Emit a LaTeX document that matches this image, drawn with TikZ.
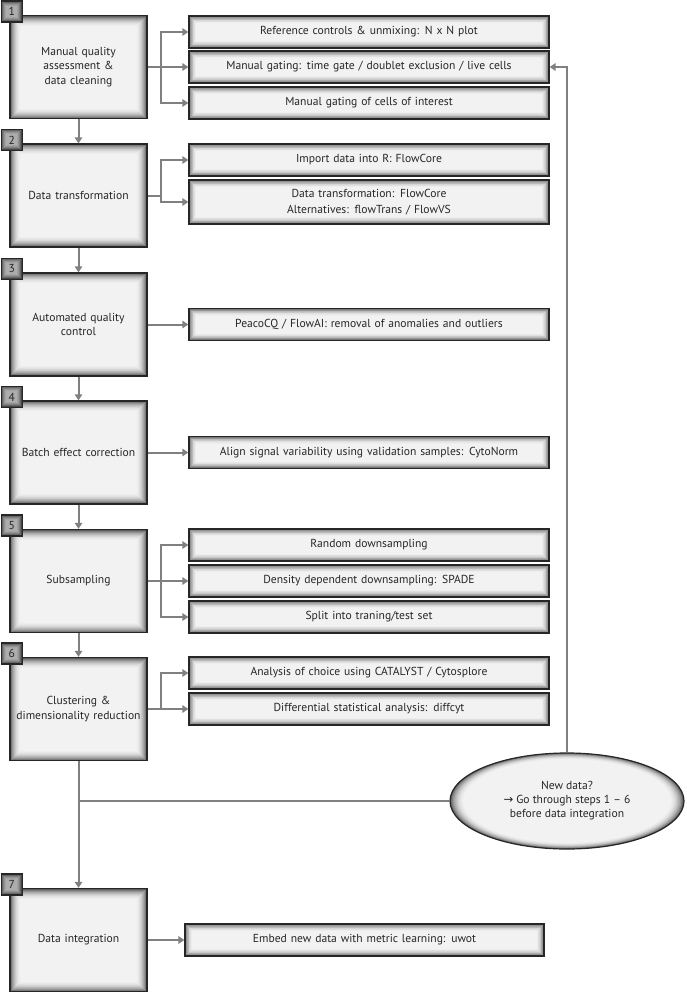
\documentclass[tikz,border=0pt]{standalone}
\usepackage{fontspec}
\setmainfont{PT Sans}
\newfontfamily\symfont{DejaVu Sans}
\usetikzlibrary{arrows.meta}
\usetikzlibrary{shapes.geometric}

\tikzset{
  inshade/.style={path picture={
    \foreach \d/\c in {0/64,1/52,2/42,3/34,4/27,5/21,6/16,7/12,8/9,9/7,10/5}
      \fill[black!\c] ([xshift={#1*\d pt},yshift={#1*\d pt}]path picture bounding box.south west)
        rectangle ([xshift={-#1*\d pt},yshift={-#1*\d pt}]path picture bounding box.north east);
  }},
  stage/.style={draw=black!85, line width=1.2pt, inshade=1, minimum width=137pt,
    minimum height=103pt, text width=127pt, align=center, inner sep=0pt,
    text=black!85, font=\fontsize{11.6}{14.5}\selectfont},
  task/.style={draw=black!85, line width=1.2pt, inshade=0.7, minimum width=360pt,
    minimum height=32pt, text width=350pt, align=center, inner sep=0pt,
    text=black!85, font=\fontsize{11.6}{16}\selectfont},
  tag/.style={draw=black!85, line width=1.2pt, minimum size=21pt, inner sep=0pt,
    text=black!85, font=\fontsize{11.6}{13}\selectfont, path picture={
    \foreach \d/\c in {0/72,1/60,2/50,3/42,4/36,5/32}
      \fill[black!\c] ([xshift=\d pt,yshift=\d pt]path picture bounding box.south west)
        rectangle ([xshift=-\d pt,yshift=-\d pt]path picture bounding box.north east);
  }},
  question/.style={ellipse, draw=black!85, line width=1.2pt, minimum width=234pt,
    minimum height=96pt, inner sep=0pt, align=center,
    text=black!85, font=\fontsize{11.6}{14}\selectfont, path picture={
    \foreach \d/\c in {0/64,1/52,2/42,3/34,4/27,5/21,6/16,7/12,8/9,9/7,10/5}
      \fill[black!\c] (path picture bounding box.center)
        ellipse ({117pt-1.3*\d pt} and {48pt-0.6*\d pt});
  }},
  link/.style={draw=black!50, line width=2pt, -{Triangle[length=6pt,width=7.5pt]}},
  line/.style={draw=black!50, line width=2pt}
}

\begin{document}
\begin{tikzpicture}[x=1pt, y=-1pt]
\useasboundingbox (0,0) rectangle (687,993);

% stages
\node[stage] (s1) at (78.5, 67)  {Manual quality\\assessment \&\\data cleaning};
\node[stage] (s2) at (78.5, 195.5) {Data transformation};
\node[stage] (s3) at (78.5, 324.5) {Automated quality\\control};
\node[stage] (s4) at (78.5, 452.5) {Batch effect correction};
\node[stage] (s5) at (78.5, 581)  {Subsampling};
\node[stage] (s6) at (78.5, 709)  {Clustering \&\\dimensionality reduction};
\node[stage] (s7) at (78.5, 940)  {Data integration};

\node[tag] (t1) at ([xshift=2.5pt,yshift=3.5pt]s1.north west) {1};
\node[tag] (t2) at ([xshift=2.5pt,yshift=3.5pt]s2.north west) {2};
\node[tag] (t3) at ([xshift=2.5pt,yshift=3.5pt]s3.north west) {3};
\node[tag] (t4) at ([xshift=2.5pt,yshift=3.5pt]s4.north west) {4};
\node[tag] (t5) at ([xshift=2.5pt,yshift=3.5pt]s5.north west) {5};
\node[tag] (t6) at ([xshift=2.5pt,yshift=3.5pt]s6.north west) {6};
\node[tag] (t7) at ([xshift=2.5pt,yshift=3.5pt]s7.north west) {7};

% tasks
\node[task] (r1a) at (369, 32)  {Reference controls \& unmixing: N x N plot};
\node[task] (r1b) at (369, 67)  {Manual gating: time gate / doublet exclusion / live cells};
\node[task] (r1c) at (369, 103) {Manual gating of cells of interest};
\node[task] (r2a) at (369, 160) {Import data into R: FlowCore};
\node[task, minimum height=44pt] (r2b) at (369, 202)
  {Data transformation: FlowCore\\Alternatives: flowTrans / FlowVS};
\node[task] (r3)  at (369, 324.5) {PeacoCQ / FlowAI: removal of anomalies and outliers};
\node[task] (r4)  at (369, 452.5) {Align signal variability using validation samples: CytoNorm};
\node[task] (r5a) at (369, 545) {Random downsampling};
\node[task] (r5b) at (369, 581) {Density dependent downsampling: SPADE};
\node[task] (r5c) at (369, 617) {Split into traning/test set};
\node[task] (r6a) at (369, 673) {Analysis of choice using CATALYST / Cytosplore};
\node[task] (r6b) at (369, 709) {Differential statistical analysis: diffcyt};
\node[task, minimum width=359pt] (r7) at (364.5, 940) {Embed new data with metric learning: uwot};

\node[question] (nd) at (567, 801)
  {New data?\\{\symfont→} Go through steps 1 -- 6\\before data integration};

%%%%%%%%%%%%%%%%%%%%%%%%%%%%%%%%%%%%%%%%

\draw[link] (s1) -- (s2);
\draw[link] (s2) -- (s3);
\draw[link] (s3) -- (s4);
\draw[link] (s4) -- (s5);
\draw[link] (s5) -- (s6);
\draw[link] (s6) -- (s7);

\draw[link] (s1.east) -- ++(13,0) |- (r1a.west);
\draw[link] (s1.east) -- (r1b.west);
\draw[link] (s1.east) -- ++(13,0) |- (r1c.west);
\draw[link] (s2.east) -- ++(13,0) |- (r2a.west);
\draw[link] (s2.east) -- ++(13,0) |- (r2b.west);
\draw[link] (s3.east) -- (r3.west);
\draw[link] (s4.east) -- (r4.west);
\draw[link] (s5.east) -- ++(13,0) |- (r5a.west);
\draw[link] (s5.east) -- (r5b.west);
\draw[link] (s5.east) -- ++(13,0) |- (r5c.west);
\draw[link] (s6.east) -- ++(13,0) |- (r6a.west);
\draw[link] (s6.east) -- ++(13,0) |- (r6b.west);
\draw[link] (s7.east) -- (r7.west);

\draw[line] (s6.south |- nd.west) -- (nd.west);
\draw[link] (nd.north) |- (r1b.east);

\end{tikzpicture}
\end{document}
